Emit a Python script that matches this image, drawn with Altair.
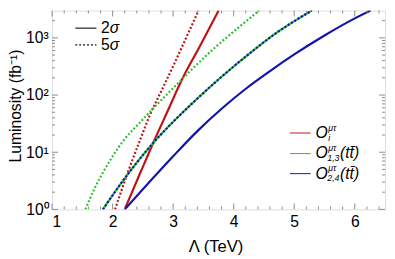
import altair as alt
import pandas as pd

# ---- data (Lambda in TeV, luminosity in fb^-1) ----
red_2s_x = [2.20, 2.45, 2.67, 2.90, 3.16, 3.45, 3.75]
red_2s_L = [1.0, 4.2, 14.5, 50, 200, 740, 3000]

red_5s_x = [2.04, 2.25, 2.45, 2.62, 2.80, 3.02, 3.20, 3.42]
red_5s_L = [1.0, 4.4, 16, 46, 115, 355, 930, 3000]

green_5s_x = [1.55, 1.70, 1.85, 2.00, 2.20, 2.45, 2.73, 3.00, 3.30, 3.70, 4.10, 4.42]
green_5s_L = [1.0, 2.3, 4.6, 8.5, 17, 33, 68, 132, 275, 690, 1580, 3000]

green_2s_x = [1.84, 2.10, 2.40, 2.67, 3.00, 3.33, 3.80, 4.30, 4.67, 5.29]
green_2s_L = [1.0, 2.5, 6.6, 14.5, 34, 74, 209, 575, 1150, 3000]

blue_5s_x = green_2s_x
blue_5s_L = green_2s_L

blue_2s_x = [2.20, 2.60, 3.00, 3.40, 3.80, 4.20, 4.60, 5.00, 5.50, 6.00, 6.26]
blue_2s_L = [1.0, 2.95, 8.5, 23.4, 57.5, 129, 263, 513, 1100, 2190, 3000]

x_ticks = [1, 2, 3, 4, 5, 6]
x_minor = [round(1 + 0.2 * i, 1) for i in range(28) if i % 5 != 0]
y_ticks = [1, 10, 100, 1000]
y_minor = [m * 10 ** k for k in range(3) for m in range(2, 10)] + [2000]

RED = "#bf1212"
GREEN = "#2cc02c"
BLUE = "#1212b0"
FRAME = "#8a8a8a"
FONT = "Liberation Sans"

W, H = 340, 203

xs = alt.Scale(domain=[1, 6.5], nice=False, zero=False)
ys = alt.Scale(type="log", domain=[1, 3000], nice=False)

XAX = alt.Axis(values=x_ticks, format="d", labelFontSize=16, labelFont=FONT,
               labelColor="black", ticks=False, domain=False, grid=False,
               labelPadding=4, title="Λ (TeV)", titleFont=FONT,
               titleFontSize=17, titleFontWeight="normal", titleColor="black",
               titleX=167, titleY=43, titleBaseline="alphabetic",
               titleAlign="center")
YAX = alt.Axis(values=y_ticks,
               labelExpr="datum.value == 1 ? '10⁰' : datum.value == 10 ? '10¹' : datum.value == 100 ? '10²' : '10³'",
               labelFontSize=16, labelFont=FONT, labelColor="black",
               ticks=False, domain=False, grid=False, labelPadding=4,
               title="Luminosity (fb⁻¹)", titleFont=FONT, titleFontSize=16,
               titleFontWeight="normal", titleColor="black",
               titleX=-32, titleY=97, titleAngle=270,
               titleBaseline="alphabetic", titleAlign="center")


def curve(xv, lv, color, dash):
    df = pd.DataFrame({"x": xv, "L": lv})
    kw = dict(color=color, strokeWidth=2.2, clip=True, interpolate="monotone")
    if dash:
        kw["strokeDash"] = [2, 2]
    return alt.Chart(df).mark_line(**kw).encode(
        x=alt.X("x:Q", scale=xs, axis=XAX),
        y=alt.Y("L:Q", scale=ys, axis=YAX),
        order="x:Q",
    )


def xtick_layer(vals, y0, y1):
    return alt.Chart(pd.DataFrame({"x": vals})).mark_rule(color=FRAME, strokeWidth=1).encode(
        x=alt.X("x:Q", scale=xs, axis=XAX), y=alt.value(y0), y2=alt.value(y1))


def ytick_layer(vals, x0, x1):
    return alt.Chart(pd.DataFrame({"L": vals})).mark_rule(color=FRAME, strokeWidth=1).encode(
        y=alt.Y("L:Q", scale=ys, axis=YAX), x=alt.value(x0), x2=alt.value(x1))


one = pd.DataFrame({"a": [0]})


def txt(s, x, y, size=16, italic=False, align="left"):
    kw = dict(text=s, font=FONT, fontSize=size, color="black", align=align, baseline="middle")
    if italic:
        kw["fontStyle"] = "italic"
    return alt.Chart(one).mark_text(**kw).encode(x=alt.value(x), y=alt.value(y))


def lrule(x0, x1, y, color, width=1.0, dash=None):
    kw = dict(color=color, strokeWidth=width)
    if dash:
        kw["strokeDash"] = dash
    return alt.Chart(one).mark_rule(**kw).encode(x=alt.value(x0), x2=alt.value(x1), y=alt.value(y))


layers = [
    curve(red_2s_x, red_2s_L, RED, False),
    curve(red_5s_x, red_5s_L, RED, True),
    curve(green_5s_x, green_5s_L, GREEN, True),
    curve(blue_2s_x, blue_2s_L, BLUE, False),
    curve(green_2s_x, green_2s_L, GREEN, False),
    curve(blue_5s_x, blue_5s_L, BLUE, True),
    # inward ticks on all four sides
    xtick_layer(x_ticks, H, H - 6), xtick_layer(x_minor, H, H - 3),
    xtick_layer(x_ticks, 0, 6), xtick_layer(x_minor, 0, 3),
    ytick_layer(y_ticks, 0, 6), ytick_layer(y_minor, 0, 3),
    ytick_layer(y_ticks, W, W - 6), ytick_layer(y_minor, W, W - 3),
    # line-style legend
    lrule(23.7, 45.3, 18, "#555555", 1.6),
    lrule(23.7, 45.3, 35, "#555555", 1.6, [2, 2]),
    txt("2", 50, 18), txt("σ", 59, 18, italic=True),
    txt("5", 50, 35), txt("σ", 59, 35, italic=True),
    # operator legend
    lrule(243, 264, 125, RED), lrule(243, 264, 146, GREEN), lrule(243, 264, 166.5, BLUE),
    txt("O", 269, 125, italic=True), txt("μτ", 282, 119.5, size=9, italic=True),
    txt("i", 282, 130, size=9, italic=True),
    txt("O", 269, 146, italic=True), txt("μτ", 282, 140.5, size=9, italic=True),
    txt("1,3", 281, 151, size=9, italic=True), txt("(tt\u0304)", 294, 146, italic=True),
    txt("O", 269, 166.5, italic=True), txt("μτ", 282, 161, size=9, italic=True),
    txt("2,4", 281, 171.5, size=9, italic=True), txt("(tt\u0304)", 294, 166.5, italic=True),
]

chart = alt.layer(*layers).properties(
    width=W, height=H,
    autosize=alt.AutoSizeParams(type="none"),
    padding={"left": 45, "top": 0, "right": 2, "bottom": 48},
).configure_view(stroke=FRAME, strokeWidth=1).configure(background="white")

chart.save("out.html", embed_options={"renderer": "svg", "actions": False})
